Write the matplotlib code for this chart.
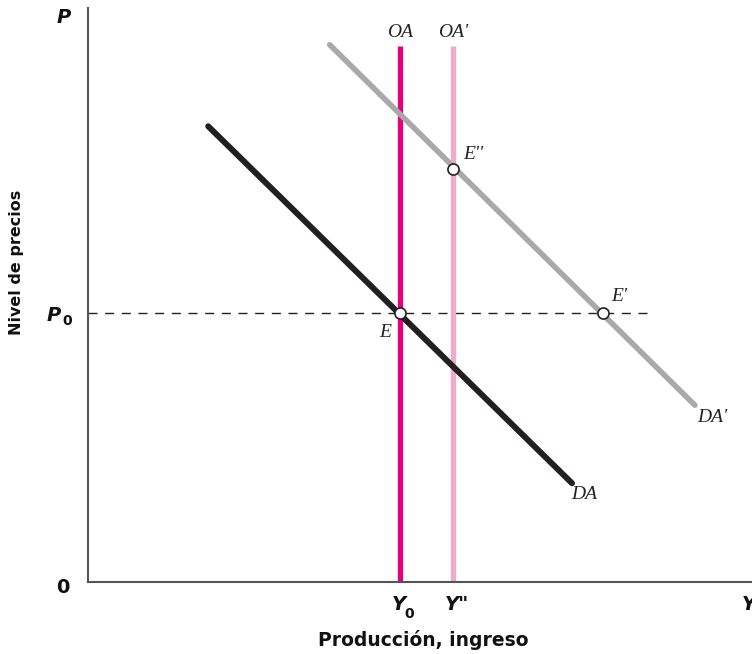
import matplotlib.pyplot as plt

# datos del grafico (unidades arbitrarias, eje x 0..10, eje y 0..10)
da_x = [1.81, 7.29]
da_y = [7.94, 1.72]
da2_x = [3.64, 9.14]
da2_y = [9.36, 3.08]
y0 = 4.70
y2 = 5.50
oa_top = 9.34
p0 = 4.69
p0_end = 8.46
puntos_x = [4.70, 7.76, 5.50]
puntos_y = [4.69, 4.69, 7.20]

W, H = 752, 654
fig = plt.figure(figsize=(W / 100, H / 100), dpi=100)
ax = fig.add_axes([88 / W, (H - 582) / H, (W - 88) / W, (582 - 8) / H])
ax.set_xlim(0, 10)
ax.set_ylim(0, (582 - 8) / 57.4)

for s in ['top', 'right']:
    ax.spines[s].set_visible(False)
for s in ['left', 'bottom']:
    ax.spines[s].set_color('#555555')
    ax.spines[s].set_linewidth(1.5)
ax.set_xticks([])
ax.set_yticks([])

# linea de P0
ax.plot([0, p0_end], [p0, p0], color='#222222', lw=1.0, dashes=(6.5, 5.5))

# OA y OA'
ax.plot([y2, y2], [0, oa_top], color='#F2A9CA', lw=3.8, solid_capstyle='butt')
ax.plot([y0, y0], [0, oa_top], color='#E6007E', lw=3.8, solid_capstyle='butt')

# DA y DA'
ax.plot(da2_x, da2_y, color='#A9A9A9', lw=4.0, solid_capstyle='round')
ax.plot(da_x, da_y, color='#231F20', lw=4.3, solid_capstyle='round')

ax.plot(puntos_x, puntos_y, 'o', ms=8, mfc='white', mec='#222222', mew=1.2, zorder=5)

serif = dict(family='Liberation Serif', style='italic', fontsize=14, color='#222222',
             ha='center', va='center')
ax.text(4.70, 9.58, 'OA', **serif)
ax.text(5.50, 9.58, "OA'", **serif)
ax.text(5.81, 7.44, "E''", **serif)
ax.text(8.00, 4.98, "E'", **serif)
ax.text(4.47, 4.34, 'E', **serif)
ax.text(7.48, 1.52, 'DA', **serif)
ax.text(9.40, 2.86, "DA'", **serif)

bold = dict(family='DejaVu Sans', fontweight='bold', color='#111111', ha='center',
            va='center', clip_on=False)
ax.text(-0.36, 9.83, 'P', style='italic', fontsize=14, **bold)
ax.text(-0.51, 4.65, 'P', style='italic', fontsize=14, **bold)
ax.text(-0.32, 4.54, '0', fontsize=10, **bold)
ax.text(-0.38, -0.10, '0', fontsize=14, **bold)
ax.text(4.68, -0.40, 'Y', style='italic', fontsize=14, **bold)
ax.text(4.84, -0.56, '0', fontsize=10, **bold)
ax.text(5.55, -0.40, 'Y"', style='italic', fontsize=14, **bold)
ax.text(9.95, -0.40, 'Y', style='italic', fontsize=14, **bold)

fig.text(423 / W, 1 - 640 / H, 'Producción, ingreso', family='DejaVu Sans',
         fontweight='bold', fontsize=13.5, color='#111111', ha='center', va='center')
fig.text(17 / W, 1 - 262 / H, 'Nivel de precios', family='DejaVu Sans',
         fontweight='bold', fontsize=11.5, color='#111111', ha='center', va='center',
         rotation=90)

fig.savefig('out.png', dpi=100)
